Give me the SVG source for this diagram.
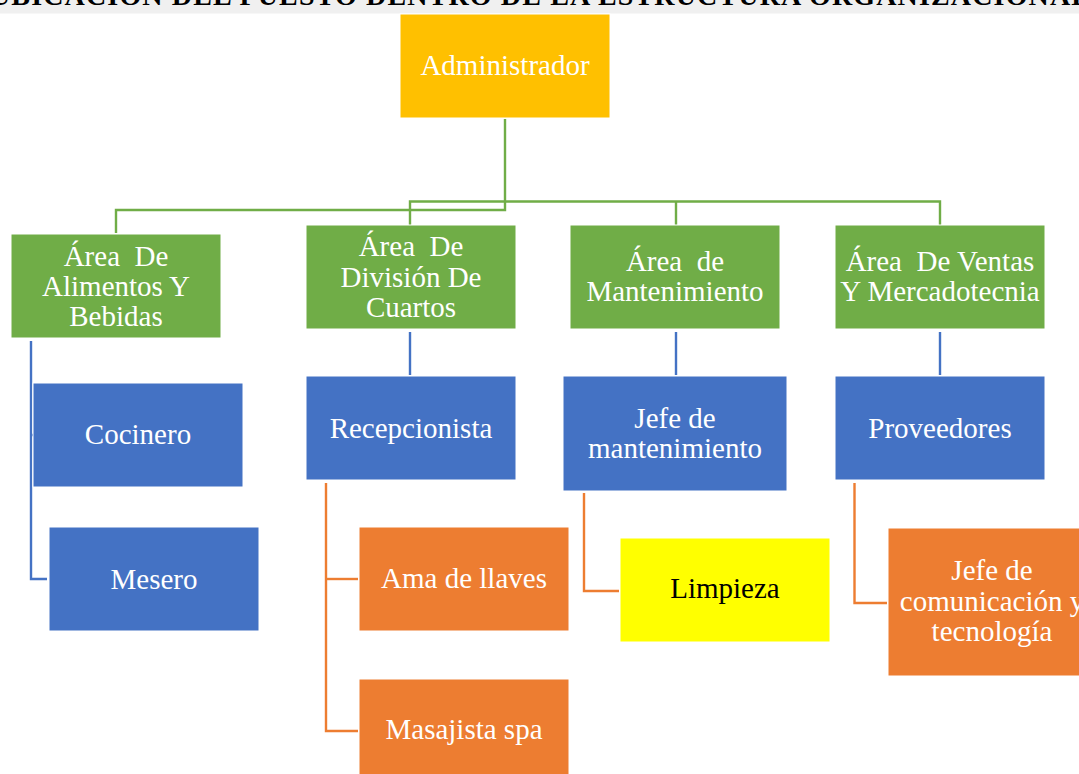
<svg xmlns="http://www.w3.org/2000/svg" width="1079" height="774" viewBox="0 0 1079 774">
  <style>
    .box { stroke: #ffffff; stroke-width: 1; }
    .gold { fill: #FFC000; }
    .green { fill: #70AD47; }
    .blue { fill: #4472C4; }
    .orange { fill: #ED7D31; }
    .yellow { fill: #FFFF00; }
    .lbl { font-family: "Liberation Serif", "Times New Roman", serif; font-size: 29px; fill: #ffffff; text-anchor: middle; }
    .dark { fill: #000000; }
    .title { font-family: "Liberation Serif", "Times New Roman", serif; font-size: 28px; font-weight: bold; fill: #000000; }
    .c { fill: none; stroke-width: 2.4; }
    .cg { stroke: #70AD47; }
    .cb { stroke: #4472C4; }
    .co { stroke: #ED7D31; }
  </style>

  <rect width="1079" height="774" fill="#ffffff"/>

  <!-- heading strip, running past the top edge -->
  <g id="heading">
    <rect x="0" y="0" width="1079" height="13.5" fill="#F0F0F0"/>
    <text class="title" x="-10" y="5" textLength="1100" lengthAdjust="spacing">UBICACIÓN DEL PUESTO DENTRO DE LA ESTRUCTURA ORGANIZACIONAL</text>
  </g>

  <!-- connectors -->
  <g id="connectors">
    <path class="c cg" d="M505 119 V210 H116 V233"/>
    <path class="c cg" d="M410 225 V201.5 H940 V225"/>
    <path class="c cg" d="M676 201.5 V225"/>

    <path class="c cb" d="M31 341 V579 H47"/>
    <path class="c cb" d="M31 435 H33"/>
    <path class="c cb" d="M410 332 V375"/>
    <path class="c cb" d="M676 332 V375"/>
    <path class="c cb" d="M940 332 V375"/>

    <path class="c co" d="M326 483 V731 H358"/>
    <path class="c co" d="M326 579 H358"/>
    <path class="c co" d="M584 493 V591 H619"/>
    <path class="c co" d="M854.5 483 V603 H887"/>
  </g>

  <!-- top -->
  <g id="administrador">
    <rect class="box gold" x="400" y="14" width="210" height="104"/>
    <text class="lbl" x="505" y="75">Administrador</text>
  </g>

  <!-- areas -->
  <g id="area-alimentos">
    <rect class="box green" x="11" y="234" width="210" height="104"/>
    <text class="lbl" x="116" y="266" xml:space="preserve">Área  De</text>
    <text class="lbl" x="116" y="296">Alimentos Y</text>
    <text class="lbl" x="116" y="326">Bebidas</text>
  </g>
  <g id="area-cuartos">
    <rect class="box green" x="306" y="225" width="210" height="104"/>
    <text class="lbl" x="411" y="256" xml:space="preserve">Área  De</text>
    <text class="lbl" x="411" y="287">División De</text>
    <text class="lbl" x="411" y="317">Cuartos</text>
  </g>
  <g id="area-mantenimiento">
    <rect class="box green" x="570" y="225" width="210" height="104"/>
    <text class="lbl" x="675" y="271" xml:space="preserve">Área  de</text>
    <text class="lbl" x="675" y="301">Mantenimiento</text>
  </g>
  <g id="area-ventas">
    <rect class="box green" x="835" y="225" width="210" height="104"/>
    <text class="lbl" x="940" y="271" xml:space="preserve">Área  De Ventas</text>
    <text class="lbl" x="940" y="301">Y Mercadotecnia</text>
  </g>

  <!-- second level -->
  <g id="cocinero">
    <rect class="box blue" x="33" y="383" width="210" height="104"/>
    <text class="lbl" x="138" y="444">Cocinero</text>
  </g>
  <g id="mesero">
    <rect class="box blue" x="49" y="527" width="210" height="104"/>
    <text class="lbl" x="154" y="589">Mesero</text>
  </g>
  <g id="recepcionista">
    <rect class="box blue" x="306" y="376" width="210" height="104"/>
    <text class="lbl" x="411" y="438">Recepcionista</text>
  </g>
  <g id="jefe-mantenimiento">
    <rect class="box blue" x="563" y="376" width="224" height="115"/>
    <text class="lbl" x="675" y="428">Jefe de</text>
    <text class="lbl" x="675" y="458">mantenimiento</text>
  </g>
  <g id="proveedores">
    <rect class="box blue" x="835" y="376" width="210" height="104"/>
    <text class="lbl" x="940" y="438">Proveedores</text>
  </g>

  <!-- third level -->
  <g id="ama-de-llaves">
    <rect class="box orange" x="359" y="527" width="210" height="104"/>
    <text class="lbl" x="464" y="588">Ama de llaves</text>
  </g>
  <g id="masajista-spa">
    <rect class="box orange" x="359" y="679" width="210" height="104"/>
    <text class="lbl" x="464" y="739">Masajista spa</text>
  </g>
  <g id="limpieza">
    <rect class="box yellow" x="620" y="538" width="210" height="104"/>
    <text class="lbl dark" x="725" y="598">Limpieza</text>
  </g>
  <g id="jefe-comunicacion">
    <rect class="box orange" x="888" y="528" width="210" height="148"/>
    <text class="lbl" x="992" y="580">Jefe de</text>
    <text class="lbl" x="992" y="611">comunicación y</text>
    <text class="lbl" x="992" y="641">tecnología</text>
  </g>
</svg>
